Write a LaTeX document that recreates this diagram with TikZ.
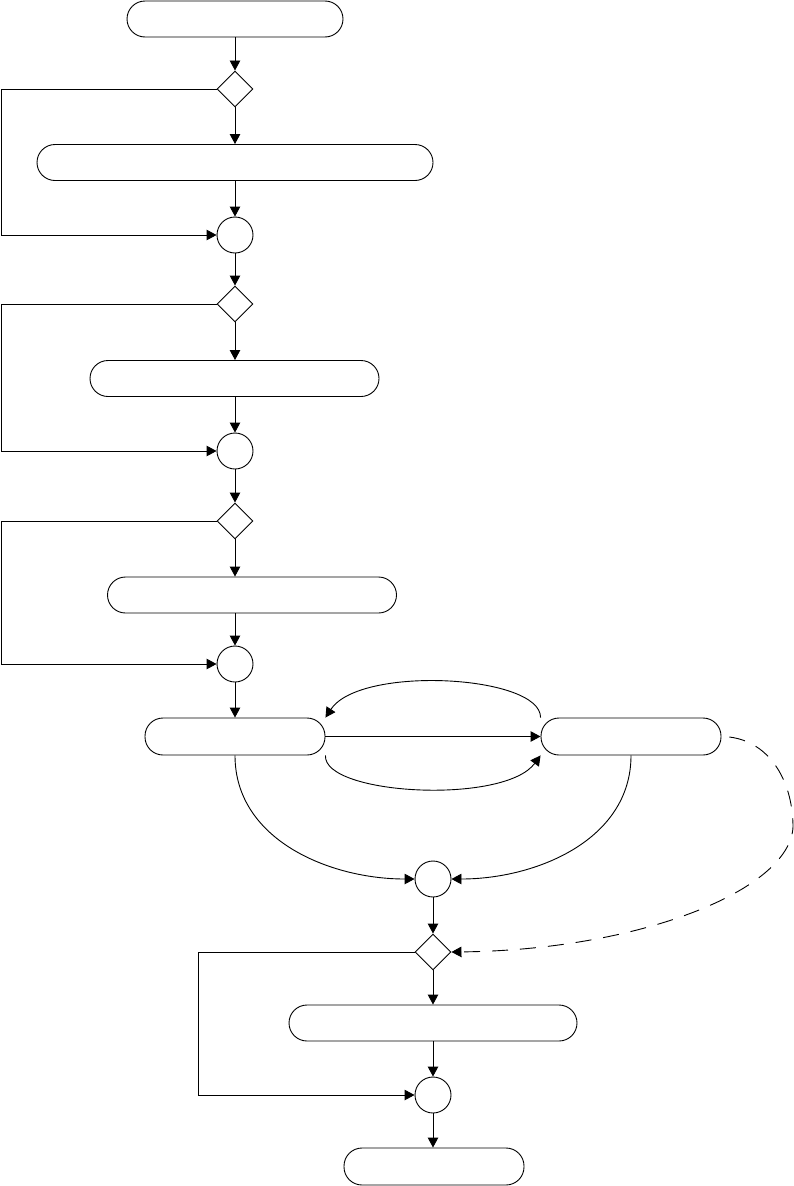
\documentclass[tikz,border=0pt]{standalone}
\usepackage{tikz}
\usetikzlibrary{arrows.meta, shapes.geometric, calc}

\begin{document}
\begin{tikzpicture}[x=1pt,y=-1pt,line width=0.9pt,
    act/.style={draw,rectangle,rounded corners=18pt,minimum height=36pt,inner sep=0pt},
    dec/.style={draw,diamond,minimum width=36pt,minimum height=36pt,inner sep=0pt},
    mrg/.style={draw,circle,minimum size=36pt,inner sep=0pt},
    arr/.style={-{Triangle[length=10pt,width=10.5pt]}}]
  \useasboundingbox (0,0) rectangle (794,1186);

  % main column
  \node[act,minimum width=216pt] (start) at (235,19) {};
  \node[dec] (d1) at (235,89) {};
  \node[act,minimum width=396pt] (a1) at (235,162.5) {};
  \node[mrg] (m1) at (235,235) {};
  \node[dec] (d2) at (235,304) {};
  \node[act,minimum width=289pt] (a2) at (234.5,378.5) {};
  \node[mrg] (m2) at (235,451) {};
  \node[dec] (d3) at (235,521) {};
  \node[act,minimum width=289pt] (a3) at (252,595) {};
  \node[mrg] (m3) at (235,664) {};

  % the two linked activities
  \node[act,minimum width=180pt,minimum height=37pt] (a4) at (235,736.5) {};
  \node[act,minimum width=180pt,minimum height=37pt] (a5) at (631,736.5) {};
  \node[mrg] (m4) at (433,879) {};
  \node[dec] (d4) at (433,952) {};
  \node[act,minimum width=288pt] (a6) at (433,1023) {};
  \node[mrg] (m5) at (433,1095) {};
  \node[act,minimum width=180pt,minimum height=37pt] (stop) at (434,1166.5) {};

  \draw[arr] (start) -- (d1);
  \draw[arr] (d1) -- (a1);
  \draw[arr] (a1) -- (m1);
  \draw[arr] (d1.west) -- (1,89) |- (m1.west);

  \draw[arr] (m1) -- (d2);
  \draw[arr] (d2) -- (d2 |- a2.north);
  \draw[arr] (d2 |- a2.south) -- (m2);
  \draw[arr] (d2.west) -- (1,304) |- (m2.west);

  \draw[arr] (m2) -- (d3);
  \draw[arr] (d3) -- (d3 |- a3.north);
  \draw[arr] (d3 |- a3.south) -- (m3);
  \draw[arr] (d3.west) -- (1,521) |- (m3.west);

  \draw[arr] (m3) -- (a4);
  \draw[arr] (a4) -- (a5);
  \draw[arr] (a5.north west) .. controls (541,675) and (360,665) .. (a4.north east);
  \draw[arr] (a4.south east) .. controls (323,795) and (504,805) .. (a5.south west);
  \draw[arr] (a4.south) .. controls (235,840) and (330,879) .. (m4.west);
  \draw[arr] (a5.south) .. controls (631,840) and (536,879) .. (m4.east);
  \draw[arr,dash pattern=on 16pt off 12pt,dash phase=-8pt] (a5.east)
    .. controls (768,737) and (793,780) .. (793,827)
    .. controls (790,890) and (640,950) .. (d4.east);

  \draw[arr] (m4) -- (d4);
  \draw[arr] (d4) -- (a6);
  \draw[arr] (a6) -- (m5);
  \draw[arr] (d4.west) -- (198,952) |- (m5.west);
  \draw[arr] (m5) -- (m5 |- stop.north);
\end{tikzpicture}
\end{document}
